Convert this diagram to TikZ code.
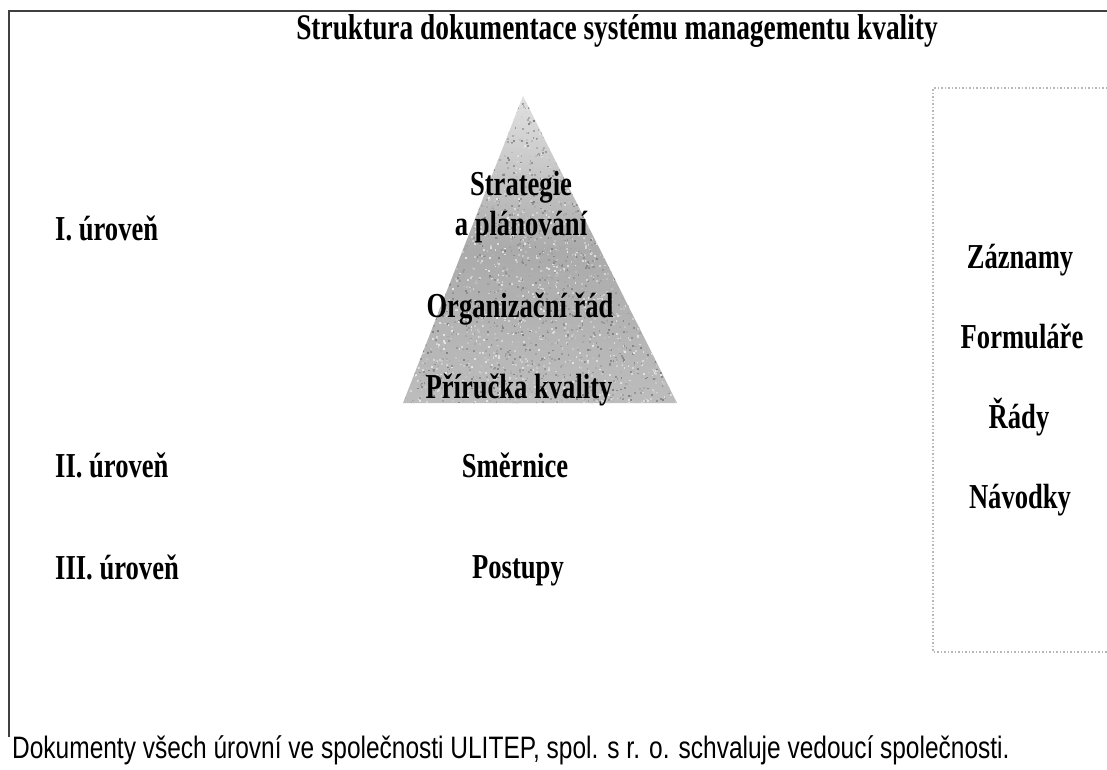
\documentclass[tikz,border=0pt]{standalone}
\usepackage{fontspec}
\setmainfont{Liberation Serif}
\newfontfamily\narrowserif[FakeStretch=0.76]{Liberation Serif}
\newfontfamily\narrowsans[FakeStretch=0.79]{Liberation Sans}

\begin{document}
\begin{tikzpicture}[x=1pt,y=-1pt,
  heading/.style={font=\narrowserif\bfseries\fontsize{36}{36}\selectfont, inner sep=0pt, anchor=base},
  level/.style={font=\narrowserif\bfseries\fontsize{35}{35}\selectfont, inner sep=0pt, anchor=base west},
  item/.style={font=\narrowserif\bfseries\fontsize{35}{40}\selectfont, inner sep=0pt, anchor=base, align=center},
  note/.style={font=\narrowsans\fontsize{31}{31}\selectfont, inner sep=0pt, anchor=base west},
  frameline/.style={draw=black!75, line width=2pt},
  recbox/.style={draw=black!28, line width=1.2pt, dash pattern=on 1.5pt off 2pt}]
\useasboundingbox (0,0) rectangle (1107,769);

% outer frame (top and left edges)
\draw[frameline] (1107,11) -- (9,11) -- (9,737);

% pyramid corners
\coordinate (apex) at (523,96);
\coordinate (baseL) at (403,403);
\coordinate (baseR) at (677,403);

% pyramid with a grainy grey fill
\begin{scope}
  \clip (apex) -- (baseR) -- (baseL) -- cycle;
  \shade[top color=black!12, bottom color=black!26, middle color=black!33]
    (403,96) rectangle (677,403);
  \pgfmathsetseed{17}
  \foreach \i in {1,...,4200}{
    \pgfmathsetmacro\px{403+274*rnd}
    \pgfmathsetmacro\py{96+307*rnd}
    \pgfmathsetmacro\sh{int(10+40*rnd)}
    \fill[black!\sh] (\px,\py) rectangle ++(1.8,1.8);
  }
\end{scope}

% record documents area (faint dotted box, open to the right)
\draw[recbox] (1107,88) -- (933,88) -- (933,652) -- (1107,652);

% title
\node[heading] (title) at (617,39) {Struktura dokumentace systému managementu kvality};

% levels
\node[level] (lvl1) at (55,240) {I. úroveň};
\node[level] (lvl2) at (55,477) {II. úroveň};
\node[level] (lvl3) at (55,579) {III. úroveň};

% pyramid contents
\node[item] (strategy) at (521,235) {Strategie\\a plánování};
\node[item] (orgorder) at (520,317) {Organizační řád};
\node[item] (manual) at (519,398) {Příručka kvality};
\node[item] (directives) at (515,477) {Směrnice};
\node[item] (procedures) at (518,578) {Postupy};

% records column
\node[item] (records) at (1020,268) {Záznamy};
\node[item] (forms) at (1022,348) {Formuláře};
\node[item] (orders) at (1019,428) {Řády};
\node[item] (instructions) at (1020,508) {Návodky};

% footnote
\node[note] (footnote) at (12,758) {Dokumenty všech úrovní ve společnosti ULITEP, spol. s r. o. schvaluje vedoucí společnosti.};
\end{tikzpicture}
\end{document}
